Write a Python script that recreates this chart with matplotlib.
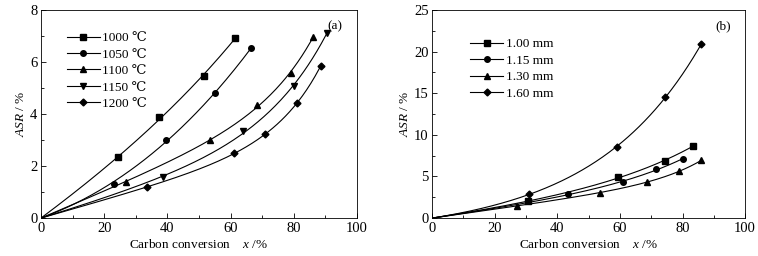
import numpy as np
import matplotlib
matplotlib.use("Agg")
from matplotlib import pyplot as plt
from matplotlib.ticker import MultipleLocator

plt.rcParams['font.family'] = ['Liberation Serif', 'DejaVu Serif']
plt.rcParams['mathtext.fontset'] = 'custom'
plt.rcParams['mathtext.rm'] = 'Liberation Serif'
plt.rcParams['mathtext.it'] = 'Liberation Serif:italic'
plt.rcParams['font.size'] = 9

# panel (a): temperature series
temp_labels = ["1000 ℃", "1050 ℃", "1100 ℃", "1150 ℃", "1200 ℃"]
temp_x = [
    [0, 24.5, 37.5, 51.5, 61.5],
    [0, 23, 39.5, 55, 66.5],
    [0, 27, 53.5, 68.5, 79, 86],
    [0, 38.5, 64, 80, 90.5],
    [0, 33.5, 61, 71, 81, 88.5],
]
temp_y = [
    [0, 2.33, 3.87, 5.47, 6.93],
    [0, 1.33, 3.0, 4.8, 6.53],
    [0, 1.4, 3.0, 4.33, 5.57, 6.95],
    [0, 1.57, 3.33, 5.07, 7.13],
    [0, 1.18, 2.5, 3.22, 4.42, 5.85],
]

# panel (b): particle size series
size_labels = ["1.00 mm", "1.15 mm", "1.30 mm", "1.60 mm"]
size_x = [
    [0, 30.5, 59.5, 74.5, 83.5],
    [0, 43.5, 61, 71.5, 80],
    [0, 27, 53.5, 68.5, 79, 86],
    [0, 31, 59, 74.5, 86],
]
size_y = [
    [0, 2.0, 4.9, 6.9, 8.7],
    [0, 2.85, 4.35, 5.85, 7.1],
    [0, 1.45, 3.05, 4.35, 5.6, 6.95],
    [0, 2.85, 8.6, 14.5, 20.9],
]

markers_a = ['s', 'o', '^', 'v', 'D']
markers_b = ['s', 'o', '^', 'D']


def fit_curve(x, y):
    # y = a*x + c*x*(exp(b*x)-1), best b from a small search
    best = None
    for b in np.linspace(0.005, 0.12, 231):
        A = np.column_stack([x, x * (np.exp(b * x) - 1)])
        c, res, *_ = np.linalg.lstsq(A, y, rcond=None)
        if c[1] < 0:
            continue
        err = np.sum((A @ c - y) ** 2)
        if best is None or err < best[0]:
            best = (err, b, c)
    _, b, c = best
    xf = np.linspace(0, x.max(), 200)
    return xf, c[0] * xf + c[1] * xf * (np.exp(b * xf) - 1)


def draw(ax, xs, ys, labels, markers):
    for x, y, lab, m in zip(xs, ys, labels, markers):
        x = np.array(x, float)
        y = np.array(y, float)
        xf, yf = fit_curve(x, y)
        ax.plot(xf, yf, color='k', lw=0.8)
        ms = 3.5 if m == 'D' else 4
        ax.plot(x[1:], y[1:], ls='none', marker=m, color='k', ms=ms)
        ax.plot([], [], color='k', lw=0.8, marker=m, ms=ms, label=lab)


fig = plt.figure(figsize=(7.58, 2.56), dpi=100)
ax1 = fig.add_axes([0.054, 0.148, 0.417, 0.813])
ax2 = fig.add_axes([0.570, 0.148, 0.413, 0.813])

draw(ax1, temp_x, temp_y, temp_labels, markers_a)
draw(ax2, size_x, size_y, size_labels, markers_b)

ax1.set_ylim(0, 8)
ax1.yaxis.set_major_locator(MultipleLocator(2))
ax1.yaxis.set_minor_locator(MultipleLocator(1))
ax2.set_ylim(0, 25)
ax2.yaxis.set_major_locator(MultipleLocator(5))
ax2.yaxis.set_minor_locator(MultipleLocator(2.5))

for ax, tag in [(ax1, "(a)"), (ax2, "(b)")]:
    ax.set_xlim(0, 100)
    ax.xaxis.set_major_locator(MultipleLocator(20))
    ax.xaxis.set_minor_locator(MultipleLocator(10))
    ax.tick_params(which='both', direction='in', top=False, right=False)
    ax.tick_params(which='major', length=3.5, width=0.6, pad=2.5, labelsize=10.5)
    ax.tick_params(which='minor', length=2, width=0.6)
    for s in ax.spines.values():
        s.set_linewidth(0.6)
    ax.set_xlabel(r"Carbon conversion    $\mathit{x}$ /%", labelpad=2.5, fontsize=9.5)
    ax.set_ylabel(r"$\mathit{ASR}$ / %", labelpad=2, fontsize=9.5)
    ax.text(0.955, 0.92, tag, transform=ax.transAxes, ha='right', va='center',
            fontsize=9.5)

ax1.legend(loc='upper left', bbox_to_anchor=(0.065, 0.92), frameon=False,
           handlelength=2.5, handletextpad=0.2, labelspacing=0.32,
           borderaxespad=0, fontsize=9.5)
ax2.legend(loc='upper left', bbox_to_anchor=(0.105, 0.89), frameon=False,
           handlelength=2.5, handletextpad=0.2, labelspacing=0.32,
           borderaxespad=0, fontsize=9.5)

plt.savefig("out.png", dpi=100)
plt.close()
